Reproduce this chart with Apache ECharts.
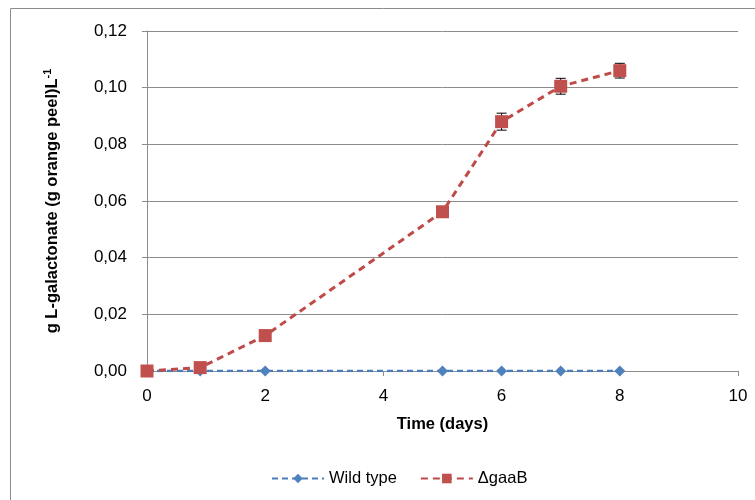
<!DOCTYPE html>
<html><head><meta charset="utf-8">
<script src="https://cdn.jsdelivr.net/npm/echarts@6/dist/echarts.min.js"></script>
<style>html,body{margin:0;padding:0;background:#fff}#c{width:755px;height:500px}</style>
</head><body><div id="c"></div>
<script>
const days = [0, 0.9, 2, 5, 6, 7, 8];
const wildType = [0, 0, 0, 0, 0, 0, 0];
const gaaB = [0, 0.0012, 0.0125, 0.0562, 0.088, 0.1005, 0.106];
const gaaBErr = [0, 0.0006, 0.0008, 0.0015, 0.003, 0.0028, 0.0026];
const yTicks = ['0,00','0,02','0,04','0,06','0,08','0,10','0,12'];

const font = 'Liberation Sans, Arial, sans-serif';
const chart = echarts.init(document.getElementById('c'));
const pairs = (xs, ys) => xs.map((x, i) => [x, ys[i]]);
chart.setOption({
  animation: false,
  graphic: [{type:'rect', shape:{x:10.5,y:8.5,width:800,height:600}, style:{fill:'none', stroke:'#8c8c8c', lineWidth:1}, z:-1}],
  grid: {left:147, right:17, top:31, bottom:129},
  xAxis: {type:'value', min:0, max:10, interval:2,
    name:'Time (days)', nameLocation:'middle', nameGap:45,
    nameTextStyle:{fontFamily:font, fontWeight:'bold', fontSize:16.5, color:'#000'},
    axisLine:{lineStyle:{color:'#8c8c8c'}}, axisTick:{show:true, lineStyle:{color:'#8c8c8c'}, length:5},
    axisLabel:{fontFamily:font, fontSize:17, color:'#000', margin:17},
    splitLine:{show:false}},
  yAxis: {type:'value', min:0, max:0.12, interval:0.02,
    name:'g L-galactonate (g orange peel)L{sup|-1}', nameLocation:'middle', nameGap:85,
    nameTextStyle:{fontFamily:font, fontWeight:'bold', fontSize:16.5, color:'#000', rich:{sup:{fontSize:11, fontWeight:'bold', verticalAlign:'top', padding:[0,0,9,0], fontFamily:font}}},
    axisLine:{show:true, lineStyle:{color:'#8c8c8c'}}, axisTick:{show:true, lineStyle:{color:'#8c8c8c'}, length:5},
    axisLabel:{fontFamily:font, fontSize:17, color:'#000', margin:20, formatter:(v)=>yTicks[Math.round(v/0.02)]},
    splitLine:{lineStyle:{color:'#8c8c8c'}}},
  legend: {bottom:8, left:266, itemWidth:52, itemHeight:12, itemGap:23,
    textStyle:{fontFamily:font, fontSize:16.5, color:'#000'},
    data:['Wild type','ΔgaaB']},
  series: [
    {name:'Wild type', type:'line', data:pairs(days, wildType), symbol:'diamond', symbolSize:11,
     lineStyle:{color:'#4a7ebb', width:2.5, type:[6,4]}, itemStyle:{color:'#4f81bd'}, z:3},
    {name:'err', type:'custom', z:4,
     data: days.map((d,i)=>[d, gaaB[i]-gaaBErr[i], gaaB[i]+gaaBErr[i]]).filter((r,i)=>i>=3),
     renderItem:(params, api)=>{
       const lo = api.coord([api.value(0), api.value(1)]);
       const hi = api.coord([api.value(0), api.value(2)]);
       const w = 5;
       const st = {stroke:'#000', lineWidth:1};
       return {type:'group', children:[
         {type:'line', shape:{x1:lo[0],y1:lo[1],x2:hi[0],y2:hi[1]}, style:st},
         {type:'line', shape:{x1:lo[0]-w,y1:lo[1],x2:lo[0]+w,y2:lo[1]}, style:st},
         {type:'line', shape:{x1:hi[0]-w,y1:hi[1],x2:hi[0]+w,y2:hi[1]}, style:st}
       ]};
     }},
    {name:'ΔgaaB', type:'line', data:pairs(days, gaaB), symbol:'rect', symbolSize:13,
     lineStyle:{color:'#be4b48', width:3, type:[7,5]}, itemStyle:{color:'#c0504d'}, z:5}
  ]
});
</script></body></html>
